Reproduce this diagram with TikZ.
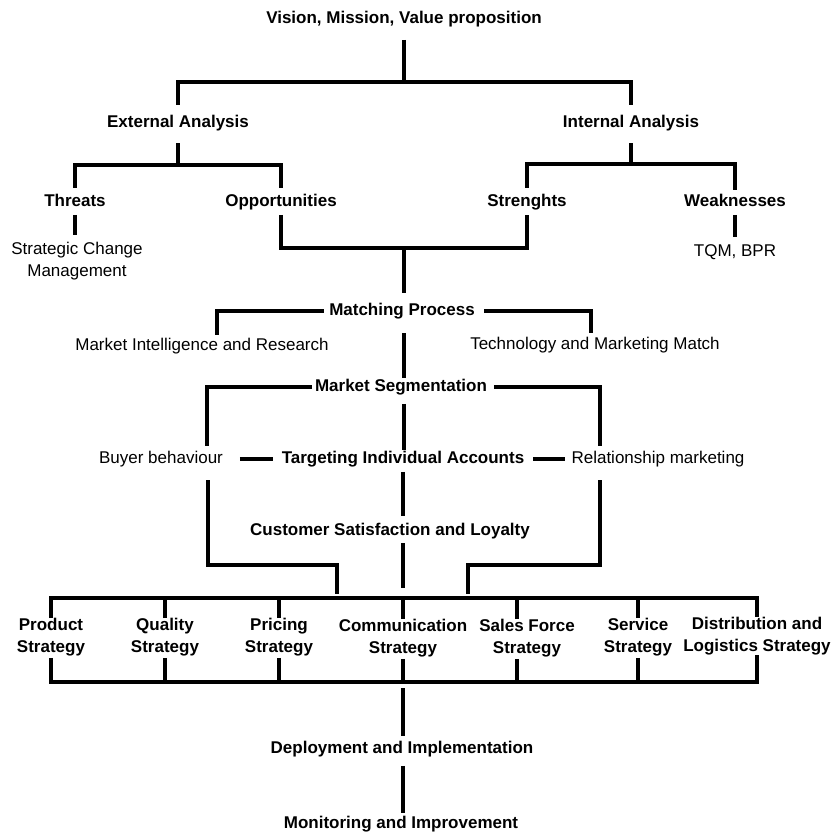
\documentclass[tikz,border=0pt]{standalone}
\usepackage{fontspec}
\setmainfont{Liberation Sans}
\begin{document}
\begin{tikzpicture}[x=0.75pt, y=-0.75pt,
  lbl/.style={inner sep=0pt, outer sep=0pt, text height=9pt, text depth=2.25pt,
              font=\fontsize{12.75pt}{16.5pt}\selectfont},
  head/.style={lbl, font=\fontsize{12.75pt}{16.5pt}\selectfont\bfseries},
  twoline/.style={inner sep=0pt, outer sep=0pt, align=center,
              font=\fontsize{12.75pt}{16.5pt}\selectfont},
  strat/.style={twoline, font=\fontsize{12.75pt}{16.5pt}\selectfont\bfseries},
  link/.style={line width=2.5pt, line join=miter, line cap=butt}]

\useasboundingbox (0,0) rectangle (837,835);

% ---- labels ----
\node[head] (vision) at (404,19) {Vision, Mission, Value proposition};
\node[head] (ext) at (178,123) {External Analysis};
\node[head] (int) at (631,123) {Internal Analysis};
\node[head] (threats) at (75,202) {Threats};
\node[head] (opp) at (281,202) {Opportunities};
\node[head] (str) at (527,202) {Strenghts};
\node[head] (weak) at (735,202) {Weaknesses};
\node[twoline] (scm) at (77,261) {Strategic Change\\Management};
\node[lbl] (tqm) at (735,252) {TQM, BPR};
\node[head] (match) at (402,311) {Matching Process};
\node[lbl] (mir) at (202,346) {Market Intelligence and Research};
\node[lbl] (tmm) at (595,345) {Technology and Marketing Match};
\node[head] (seg) at (401,387) {Market Segmentation};
\node[lbl] (buyer) at (161,459) {Buyer behaviour};
\node[head] (target) at (403,459) {Targeting Individual Accounts};
\node[lbl] (rel) at (658,459) {Relationship marketing};
\node[head] (cust) at (390,531) {Customer Satisfaction and Loyalty};
\node[strat] (prod) at (51,637) {Product\\Strategy};
\node[strat] (qual) at (165,637) {Quality\\Strategy};
\node[strat] (pric) at (279,637) {Pricing\\Strategy};
\node[strat] (comm) at (403,638) {Communication\\Strategy};
\node[strat] (sales) at (527,638) {Sales Force\\Strategy};
\node[strat] (serv) at (638,637) {Service\\Strategy};
\node[strat] (dist) at (757,636) {Distribution and\\Logistics Strategy};
\node[head] (deploy) at (402,749) {Deployment and Implementation};
\node[head] (monitor) at (401,824) {Monitoring and Improvement};

% ---- junction points and free line ends ----
\coordinate (topbar) at (404,82);
\coordinate (exbar) at (178,165);
\coordinate (inbar) at (631,164);
\coordinate (obar) at (404,248);
\coordinate (mirtop) at (217,335);
\coordinate (tmmtop) at (591,333);
\coordinate (buytop) at (207,446);
\coordinate (reltop) at (600,446);
\coordinate (buybot) at (208,480);
\coordinate (lbrk) at (337,565);
\coordinate (relbot) at (600,480);
\coordinate (rbrk) at (468,565);
\coordinate (sbar) at (403,598);
\coordinate (bbar) at (403,682);

% ---- analysis tree ----
\draw[link, shorten <=10.1pt] (vision.south) -- (topbar);
\draw[link, shorten <=8pt, shorten >=8pt] (ext.north) |- (topbar) -| (int.north);
\draw[link, shorten <=9.4pt] (ext.south) -- (exbar);
\draw[link, shorten <=4.9pt, shorten >=4.9pt] (threats.north) |- (exbar) -| (opp.north);
\draw[link, shorten <=9.4pt] (int.south) -- (inbar);
\draw[link, shorten <=4.9pt, shorten >=3.4pt] (str.north) |- (inbar) -| (weak.north);
\draw[link, shorten <=4.1pt, shorten >=5pt] (threats.south) -- (threats.south |- scm.north);
\draw[link, shorten <=4.1pt, shorten >=5.6pt] (weak.south) -- (weak.south |- tqm.north);
\draw[link, shorten <=4.1pt, shorten >=4.1pt] (opp.south) |- (obar) -| (str.south);
\draw[link, shorten >=7.9pt] (obar) -- (obar |- match.north);

% ---- matching and segmentation ----
\draw[link, shorten <=4pt] (match.west) -| (mirtop);
\draw[link, shorten <=7pt] (match.east) -| (tmmtop);
\draw[link, shorten <=10.9pt, shorten >=1.1pt] (obar |- match.south) -- (obar |- seg.north);
\draw[link, shorten <=2.2pt] (seg.west) -| (buytop);
\draw[link, shorten <=5.2pt] (seg.east) -| (reltop);
\draw[link, shorten <=7.1pt, shorten >=1.1pt] (obar |- seg.south) -- (obar |- target.north);
\draw[link, shorten <=12.8pt, shorten >=6.8pt] (buyer.east) -- (target.west);
\draw[link, shorten <=6.8pt, shorten >=4.9pt] (target.east) -- (rel.west);
\draw[link, shorten <=4.1pt, shorten >=5.6pt] (target.south) -- (target.south |- cust.north);
\draw[link, shorten <=3.4pt, shorten >=7.5pt] (comm.north |- cust.south) -- (comm.north |- sbar);
\draw[link, shorten >=3pt] (buybot) |- (lbrk) -- (lbrk |- sbar);
\draw[link, shorten >=3pt] (relbot) |- (rbrk) -- (rbrk |- sbar);

% ---- strategy rails ----
\draw[link] (prod.north) |- (sbar) -| (dist.north);
\foreach \s in {qual,pric,comm,serv}
  \draw[link] (\s.north) -- (\s.north |- sbar);
\draw[link] ([xshift=-7.5pt]sales.north) -- ([xshift=-7.5pt]sales.north |- sbar);
\draw[link, shorten <=1.5pt] (prod.south) |- (bbar) -| (dist.south);
\foreach \s in {qual,pric,comm,serv}
  \draw[link, shorten <=1.5pt] (\s.south) -- (\s.south |- bbar);
\draw[link, shorten <=1.5pt] ([xshift=-7.5pt]sales.south) -- ([xshift=-7.5pt]sales.south |- bbar);

% ---- implementation ----
\draw[link, shorten <=4.5pt, shorten >=4.1pt] (bbar) -- (bbar |- deploy.north);
\draw[link, shorten <=7.1pt, shorten >=2.6pt] (bbar |- deploy.south) -- (bbar |- monitor.north);
\end{tikzpicture}
\end{document}
